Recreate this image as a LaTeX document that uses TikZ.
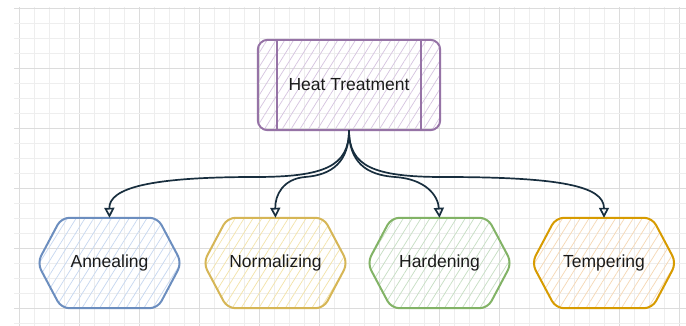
\documentclass[tikz,border=0pt]{standalone}
\usepackage{fontspec}
\setmainfont{Liberation Sans}
\usetikzlibrary{arrows.meta,patterns.meta,calc}
\pgfdeclarelayer{gridlayer}
\pgfdeclarelayer{shapelayer}
\pgfsetlayers{gridlayer,shapelayer,main}
\definecolor{gridminor}{HTML}{EEEEEE}
\definecolor{gridmajor}{HTML}{DCDCDC}
\definecolor{txt}{HTML}{1A1A1A}
\definecolor{edge}{HTML}{182E3E}
\definecolor{purpleS}{HTML}{9673A6}\definecolor{purpleH}{HTML}{D6C4E0}
\definecolor{blueS}{HTML}{6C8EBF}\definecolor{blueH}{HTML}{C6D7F0}
\definecolor{yellowS}{HTML}{D6B656}\definecolor{yellowH}{HTML}{F3E3A8}
\definecolor{greenS}{HTML}{82B366}\definecolor{greenH}{HTML}{C6DEC3}
\definecolor{orangeS}{HTML}{D79B00}\definecolor{orangeH}{HTML}{F6D8B4}
\newcommand\hexpath[1]{($(#1.north west)+(24,0)$) -- ($(#1.north east)+(-24,0)$) -- (#1.east) -- ($(#1.south east)+(-24,0)$) -- ($(#1.south west)+(24,0)$) -- (#1.west) -- cycle}
\newcommand\lowtext[1]{\raisebox{-2pt}{#1}}
\begin{document}
\begin{tikzpicture}[x=1pt,y=-1pt,
  lbl/.style={draw=none,inner sep=0pt,text=txt,font=\fontsize{17.5}{21}\selectfont},
  procnode/.style={lbl,minimum width=182pt,minimum height=90pt},
  hexnode/.style={lbl,minimum width=144pt,minimum height=90pt},
  shapeline/.style={line width=2pt,rounded corners=8pt,
    pattern={Lines[angle=58,distance=7.5pt,line width=0.7pt]}},
  arr/.style={draw=edge,line width=1.7pt,-{Triangle[open,length=10pt,width=10pt]}}
]
\useasboundingbox (0,0) rectangle (686,326);
\begin{pgfonlayer}{gridlayer}
  \fill[white] (0,0) rectangle (686,326);
  \foreach \i in {0,...,44}{
    \pgfmathtruncatemacro\xx{19+15*\i}
    \pgfmathtruncatemacro\mm{mod(\i,4)}
    \ifnum\mm=0 \draw[gridmajor,line width=0.8pt] (\xx,7) -- (\xx,326);
    \else \draw[gridminor,line width=0.8pt] (\xx,7) -- (\xx,326); \fi
  }
  \foreach \i in {0,...,21}{
    \pgfmathtruncatemacro\yy{8+15*\i}
    \pgfmathtruncatemacro\mm{mod(\i,4)}
    \ifnum\mm=0 \draw[gridmajor,line width=0.8pt] (14,\yy) -- (686,\yy);
    \else \draw[gridminor,line width=0.8pt] (14,\yy) -- (686,\yy); \fi
  }
\end{pgfonlayer}

\node[procnode] (ht) at (349,85) {Heat Treatment};
\node[hexnode] (ann) at (109.5,263) {\lowtext{Annealing}};
\node[hexnode] (nor) at (275.5,263) {\lowtext{Normalizing}};
\node[hexnode] (har) at (439.5,263) {\lowtext{Hardening}};
\node[hexnode] (tem) at (604,263) {\lowtext{Tempering}};

\begin{pgfonlayer}{shapelayer}
  \draw[shapeline,draw=purpleS,pattern color=purpleH,rounded corners=10pt] (ht.north west) rectangle (ht.south east);
  \draw[draw=purpleS,line width=2pt] ($(ht.north west)+(19,0)$) -- ($(ht.south west)+(19,0)$);
  \draw[draw=purpleS,line width=2pt] ($(ht.north east)+(-19,0)$) -- ($(ht.south east)+(-19,0)$);
  \draw[shapeline,draw=blueS,pattern color=blueH] \hexpath{ann};
  \draw[shapeline,draw=yellowS,pattern color=yellowH] \hexpath{nor};
  \draw[shapeline,draw=greenS,pattern color=greenH] \hexpath{har};
  \draw[shapeline,draw=orangeS,pattern color=orangeH] \hexpath{tem};
\end{pgfonlayer}

\draw[arr] (ht.south) .. controls (349,166) and (325,177) .. (255,177) .. controls (150,177) and (109,188) .. (ann.north);
\draw[arr] (ht.south) .. controls (349,162) and (332,175) .. (305,177) .. controls (283,179) and (275,195) .. (nor.north);
\draw[arr] (ht.south) .. controls (349,162) and (366,175) .. (395,177) .. controls (425,179) and (438,195) .. (har.north);
\draw[arr] (ht.south) .. controls (349,166) and (373,177) .. (443,177) .. controls (560,177) and (604,186) .. (tem.north);
\end{tikzpicture}
\end{document}
